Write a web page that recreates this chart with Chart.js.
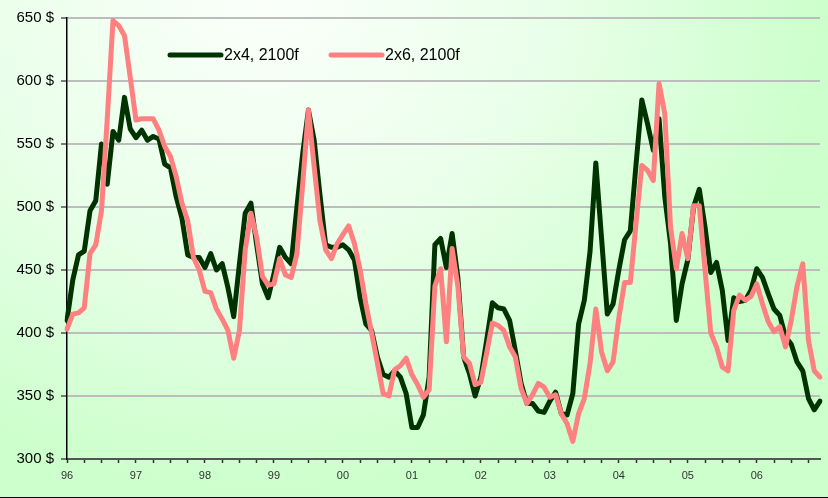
<!DOCTYPE html>
<html>
<head>
<meta charset="utf-8">
<script src="https://cdn.jsdelivr.net/npm/chart.js@4/dist/chart.umd.min.js"></script>
<style>
  html, body { margin: 0; padding: 0; }
  body {
    width: 828px; height: 498px; overflow: hidden;
    background: radial-gradient(ellipse 75% 110% at 32% 0%, #fbfffb 0%, #eaffea 45%, #ccffcc 90%);
  }
  #wrap { position: relative; width: 828px; height: 497px; border-bottom: 1px solid #000; }
</style>
</head>
<body>
<div id="wrap"><canvas id="chart" width="828" height="497"></canvas></div>
<script>
const years = ['96', '97', '98', '99', '00', '01', '02', '03', '04', '05', '06'];
const seriesNames = ['2x4, 2100f', '2x6, 2100f'];
const yTicks = [300, 350, 400, 450, 500, 550, 600, 650];

// monthly prices, Jan 96 - Dec 06
const lumber2x4 = [
  410, 442, 462, 465, 497, 505, 550, 518, 560, 553, 587, 562,
  555, 561, 553, 556, 554, 534, 531, 508, 491, 462, 460, 460,
  452, 463, 450, 455, 436, 413, 455, 495, 503, 470, 439, 428,
  447, 468, 460, 455, 500, 542, 577, 553, 510, 470, 468, 468,
  470, 466, 458, 428, 407, 402, 381, 367, 365, 370, 365, 352,
  325, 325, 335, 365, 470, 475, 452, 479, 444, 381, 368, 350,
  365, 394, 424, 420, 419, 410, 386, 360, 344, 344, 338, 337,
  346, 353, 336, 335, 352, 407, 426, 465, 535, 475, 415, 423,
  450, 474, 481, 534, 585, 566, 545, 570, 508, 471, 410, 439,
  458, 500, 514, 484, 448, 456, 434, 394, 428, 425, 426, 434,
  451, 444, 431, 419, 414, 397, 391, 377, 370, 348, 339, 346
];
const lumber2x6 = [
  403, 415, 416, 420, 463, 470, 497, 570, 648, 644, 636, 603,
  569, 570, 570, 570, 561, 548, 540, 524, 503, 489, 460, 450,
  433, 432, 419, 411, 402, 380, 402, 466, 495, 476, 445, 438,
  439, 459, 446, 444, 463, 518, 577, 532, 489, 466, 459, 471,
  478, 485, 471, 450, 423, 400, 376, 352, 350, 371, 374, 380,
  367, 359, 349, 355, 437, 451, 393, 467, 437, 381, 376, 359,
  361, 384, 408, 406, 402, 389, 381, 356, 344, 351, 360, 357,
  349, 351, 336, 328, 314, 336, 348, 376, 419, 385, 370, 377,
  412, 440, 440, 487, 533, 529, 521, 598, 574, 484, 451, 479,
  459, 501, 501, 450, 400, 389, 373, 370, 418, 430, 426, 429,
  439, 423, 409, 401, 405, 389, 410, 437, 455, 394, 370, 365
];

const months = [];
years.forEach(y => { for (let m = 1; m <= 12; m++) months.push(y + '-' + m); });

const colors = ['#003300', '#ff8080'];

// legend sits inside the plot, like the original
const insideLegend = {
  id: 'insideLegend',
  afterDraw(chart) {
    const ctx = chart.ctx;
    const xs = [170, 331];
    ctx.save();
    ctx.font = '16px "Liberation Sans", Arial, sans-serif';
    ctx.textBaseline = 'middle';
    ctx.lineCap = 'round';
    chart.data.datasets.forEach((ds, i) => {
      const x = xs[i], y = 55;
      ctx.strokeStyle = ds.borderColor;
      ctx.lineWidth = 5;
      ctx.beginPath();
      ctx.moveTo(x, y);
      ctx.lineTo(x + 51, y);
      ctx.stroke();
      ctx.fillStyle = '#000';
      ctx.fillText(ds.label, x + 54, y + 1);
    });
    ctx.restore();
  }
};

new Chart(document.getElementById('chart'), {
  type: 'line',
  data: {
    labels: months,
    datasets: [
      { label: seriesNames[0], data: lumber2x4, borderColor: colors[0], borderWidth: 5, order: 2 },
      { label: seriesNames[1], data: lumber2x6, borderColor: colors[1], borderWidth: 5, order: 1 }
    ]
  },
  options: {
    responsive: false,
    animation: false,
    layout: { padding: { top: 18, right: 8, left: 0, bottom: 0 } },
    elements: { point: { radius: 0 }, line: { tension: 0, borderJoinStyle: 'round', borderCapStyle: 'round' } },
    plugins: { legend: { display: false }, tooltip: { enabled: false } },
    scales: {
      x: {
        type: 'category',
        offset: false,
        afterFit: s => { s.height = 38; },
        grid: {
          drawOnChartArea: false,
          tickLength: 4,
          tickColor: c => (c.index % 3 === 0 ? '#333' : 'rgba(0,0,0,0)'),
          tickWidth: 1.5
        },
        border: { color: '#555', width: 2 },
        ticks: {
          autoSkip: false,
          maxRotation: 0,
          padding: 6,
          color: '#333',
          font: { family: '"Liberation Sans Narrow", "Liberation Sans", Arial, sans-serif', size: 11 },
          callback: (v, i) => (i % 12 === 0 ? years[i / 12] : '')
        }
      },
      y: {
        min: 300,
        max: 650,
        afterFit: s => { s.width = 67; },
        afterBuildTicks: s => { s.ticks = yTicks.map(v => ({ value: v })); },
        grid: { color: '#bdbdbd', lineWidth: 2, tickColor: '#000', tickLength: 6, tickWidth: 1 },
        border: { color: '#000', width: 1.5 },
        ticks: {
          padding: 7,
          color: '#000',
          font: { family: '"Liberation Sans", Arial, sans-serif', size: 15 },
          callback: v => v + ' $'
        }
      }
    }
  },
  plugins: [insideLegend]
});
</script>
</body>
</html>
